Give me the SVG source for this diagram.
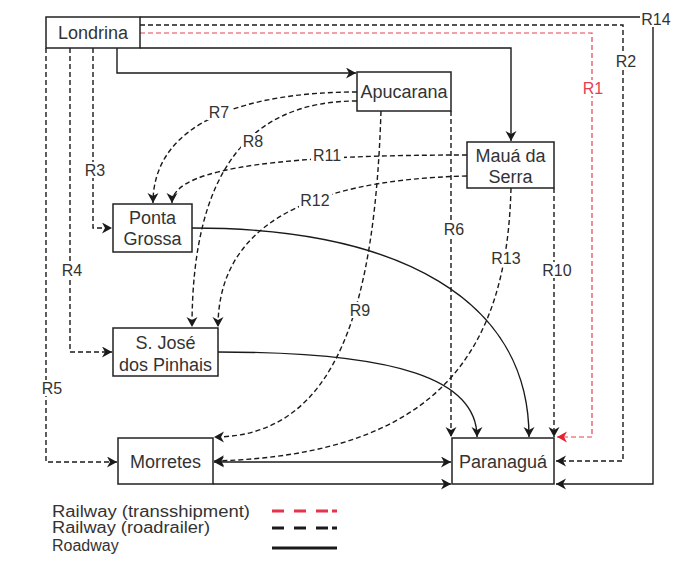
<svg xmlns="http://www.w3.org/2000/svg" width="698" height="563" viewBox="0 0 698 563">
<style>
.box{fill:#fff;stroke:#222;stroke-width:1.5}
.nt{font-family:"Liberation Sans",Arial,sans-serif;font-size:18px;fill:#333;text-anchor:middle}
.lt{font-family:"Liberation Sans",Arial,sans-serif;font-size:16px;fill:#333;text-anchor:middle}
.lg{font-family:"Liberation Sans",Arial,sans-serif;font-size:16px;fill:#333}
.lbg{fill:#fff}
.solid{fill:none;stroke:#1a1a1a;stroke-width:1.4}
.dash{fill:none;stroke:#1a1a1a;stroke-width:1.4;stroke-dasharray:5 3}
.red{fill:none;stroke:#e5404f;stroke-width:1.2;stroke-dasharray:5 3}
</style>
<defs>
<marker id="ah" markerUnits="userSpaceOnUse" markerWidth="12" markerHeight="12" refX="10" refY="5.5" orient="auto-start-reverse" viewBox="0 0 12 12">
<path d="M0,0 L10,5.5 L0,11 L3,5.5 Z" fill="#1a1a1a"/>
</marker>
<marker id="ahr" markerUnits="userSpaceOnUse" markerWidth="12" markerHeight="12" refX="10" refY="5.5" orient="auto" viewBox="0 0 12 12">
<path d="M0,0 L10,5.5 L0,11 L3,5.5 Z" fill="#e8202f"/>
</marker>
</defs>
<rect width="698" height="563" fill="#fff"/>
<g id="connectors">
<path id="R14" class="solid" d="M140,17 H653 V484 H556" marker-end="url(#ah)"/>
<path id="R2" class="dash" d="M140,25 H623 V461 H556" marker-end="url(#ah)"/>
<path id="R1" class="red" d="M140,33 H592 V437 H557" marker-end="url(#ahr)"/>
<path id="L-M" class="solid" d="M140,48 H511 V141" marker-end="url(#ah)"/>
<path id="L-A" class="solid" d="M117,48 V73 H356" marker-end="url(#ah)"/>
<path id="R3" class="dash" d="M93,48 V228 H112" marker-end="url(#ah)"/>
<path id="R4" class="dash" d="M70,48 V352 H112" marker-end="url(#ah)"/>
<path id="R5" class="dash" d="M46,48 V462 H117" marker-end="url(#ah)"/>
<path id="R6" class="dash" d="M451,111 V437" marker-end="url(#ah)"/>
<path id="R10" class="dash" d="M554,188 V437" marker-end="url(#ah)"/>
<path id="R7" class="dash" d="M357,92 C250,92 153,120 153,203" marker-end="url(#ah)"/>
<path id="R8" class="dash" d="M357,101 C250,101 192,170 192,327" marker-end="url(#ah)"/>
<path id="R11" class="dash" d="M467,155 C300,155 172,165 172,203" marker-end="url(#ah)"/>
<path id="R12" class="dash" d="M467,176 C300,180 218,230 218,327" marker-end="url(#ah)"/>
<path id="R9" class="dash" d="M381,111 C375,300 340,437 214,437" marker-end="url(#ah)"/>
<path id="R13" class="dash" d="M511,188 C507,345 445,455 214,461" marker-end="url(#ah)"/>
<path id="PG-P" class="solid" d="M192,228 C400,228 529,300 529,437" marker-end="url(#ah)"/>
<path id="SJ-P" class="solid" d="M218,352 C400,352 477,380 477,437" marker-end="url(#ah)"/>
<path id="M-P" class="solid" d="M214,462 H451" marker-start="url(#ah)" marker-end="url(#ah)"/>
<path id="M-P2" class="solid" d="M213,484 H451" marker-end="url(#ah)"/>
</g>
<g id="edge-labels">
<rect class="lbg" x="640" y="11" width="33" height="16"/><text class="lt" x="656" y="25">R14</text>
<rect class="lbg" x="614" y="53" width="24" height="16"/><text class="lt" x="626" y="67">R2</text>
<rect class="lbg" x="581" y="80" width="24" height="16"/><text class="lt" x="593" y="94" style="fill:#e5404f">R1</text>
<rect class="lbg" x="83" y="162" width="24" height="16"/><text class="lt" x="95" y="176">R3</text>
<rect class="lbg" x="60" y="262" width="24" height="16"/><text class="lt" x="72" y="276">R4</text>
<rect class="lbg" x="40" y="380" width="24" height="16"/><text class="lt" x="52" y="394">R5</text>
<rect class="lbg" x="442" y="221" width="24" height="16"/><text class="lt" x="454" y="235">R6</text>
<rect class="lbg" x="207" y="104" width="24" height="16"/><text class="lt" x="219" y="118">R7</text>
<rect class="lbg" x="241" y="133" width="24" height="16"/><text class="lt" x="253" y="147">R8</text>
<rect class="lbg" x="348" y="302" width="24" height="16"/><text class="lt" x="360" y="316">R9</text>
<rect class="lbg" x="540" y="262" width="33" height="16"/><text class="lt" x="557" y="276">R10</text>
<rect class="lbg" x="311" y="147" width="33" height="16"/><text class="lt" x="327" y="161">R11</text>
<rect class="lbg" x="299" y="192" width="33" height="16"/><text class="lt" x="315" y="206">R12</text>
<rect class="lbg" x="490" y="250" width="33" height="16"/><text class="lt" x="506" y="264">R13</text>
</g>
<g id="Londrina"><rect class="box" x="46" y="17" width="94" height="31"/><text class="nt" x="93" y="39">Londrina</text></g>
<g id="Apucarana"><rect class="box" x="357" y="72" width="94" height="39"/><text class="nt" x="404" y="98">Apucarana</text></g>
<g id="MauaDaSerra"><rect class="box" x="467" y="142" width="87" height="46"/><text class="nt" x="510.5" y="162">Mauá da</text><text class="nt" x="510.5" y="183">Serra</text></g>
<g id="PontaGrossa"><rect class="box" x="113" y="204" width="79" height="48"/><text class="nt" x="152.5" y="224">Ponta</text><text class="nt" x="152.5" y="245">Grossa</text></g>
<g id="SaoJose"><rect class="box" x="113" y="328" width="105" height="48"/><text class="nt" x="165.5" y="349">S. José</text><text class="nt" x="165.5" y="371">dos Pinhais</text></g>
<g id="Morretes"><rect class="box" x="118" y="438" width="95" height="46"/><text class="nt" x="165.5" y="468">Morretes</text></g>
<g id="Paranagua"><rect class="box" x="452" y="438" width="102" height="46"/><text class="nt" x="503" y="468">Paranaguá</text></g>
<g id="legend">
<text class="lg" x="52" y="517" textLength="198" lengthAdjust="spacingAndGlyphs">Railway (transshipment)</text>
<text class="lg" x="52" y="533" textLength="158" lengthAdjust="spacingAndGlyphs">Railway (roadrailer)</text>
<text class="lg" x="52" y="551">Roadway</text>
<line x1="272" y1="511" x2="337" y2="511" stroke="#e6324b" stroke-width="3" stroke-dasharray="12 10 12 10 12 4 5"/>
<line x1="272" y1="528" x2="337" y2="528" stroke="#1a1a1a" stroke-width="3" stroke-dasharray="12 10 12 10 12 4 5"/>
<line x1="272" y1="548" x2="337" y2="548" stroke="#1a1a1a" stroke-width="3"/>
</g>
</svg>
